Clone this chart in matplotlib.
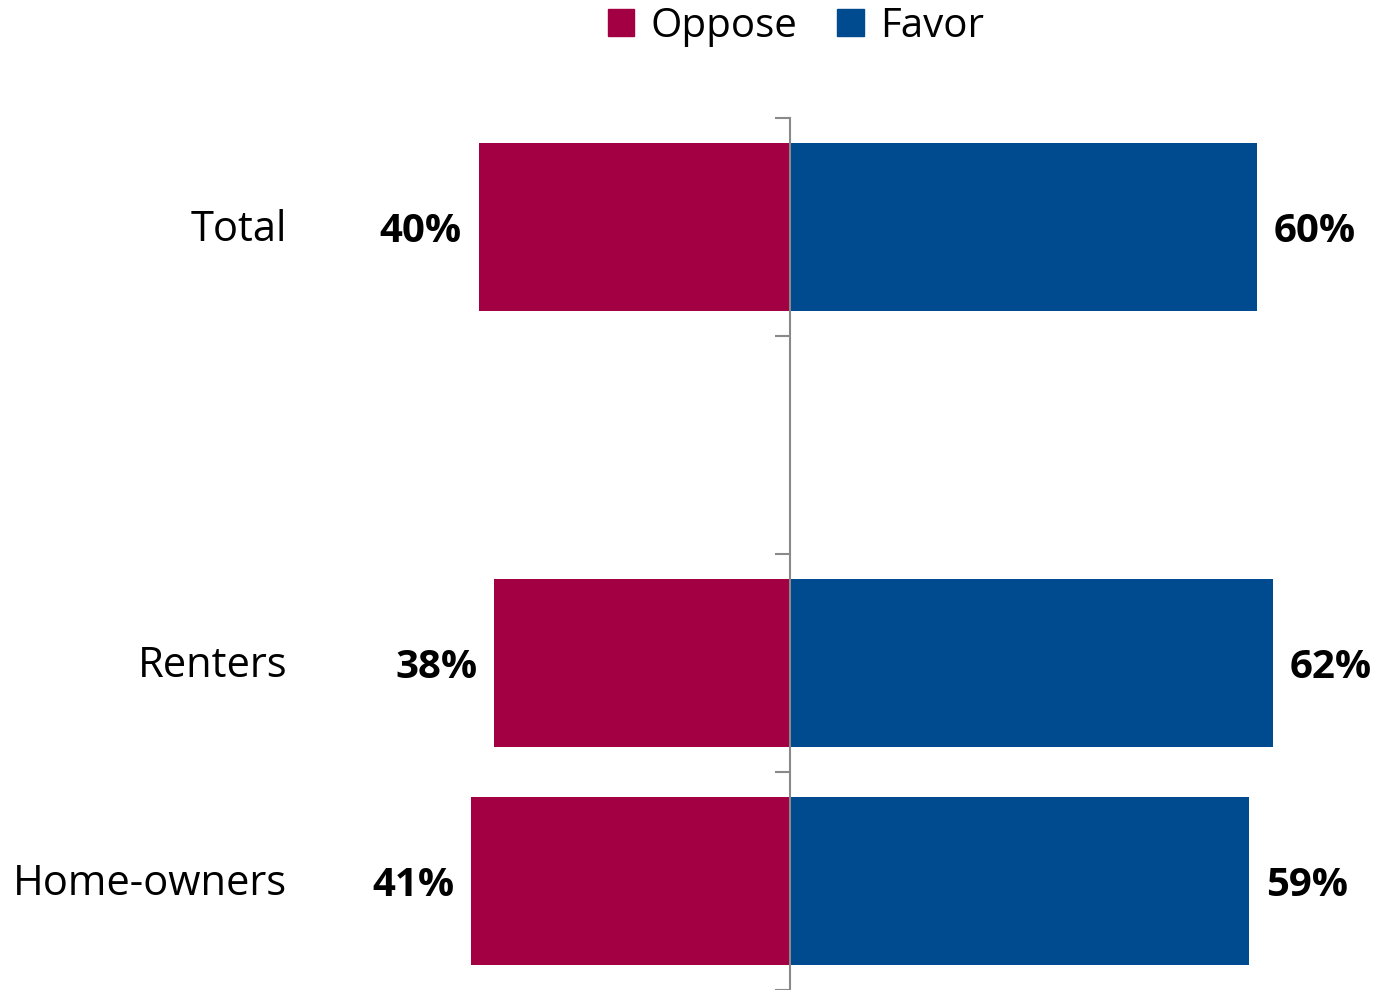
import matplotlib.pyplot as plt
import numpy as np
from matplotlib.patches import Patch

plt.rcParams['font.family'] = ['Open Sans', 'DejaVu Sans']

groups = ['Total', '', 'Renters', 'Home-owners']
oppose = [40, None, 38, 41]
favor = [60, None, 62, 59]

red = '#A20042'
blue = '#004A8F'
axis_gray = '#898989'

fig = plt.figure(figsize=(13.78, 9.9), dpi=100)
ax = fig.add_axes([322.9 / 1378, 0, 1051 / 1378, 1 - 118 / 990])

y = np.arange(len(groups))
bar_h = 0.77

for i in range(len(groups)):
    if oppose[i] is None:
        continue
    ax.barh(y[i], -oppose[i], height=bar_h, color=red, zorder=2)
    ax.barh(y[i], favor[i], height=bar_h, color=blue, zorder=2)
    ax.annotate(f'{oppose[i]}%', xy=(-oppose[i], y[i]), xytext=(-12, -3),
                textcoords='offset points', ha='right', va='center',
                fontsize=29, fontweight='bold', annotation_clip=False)
    ax.annotate(f'{favor[i]}%', xy=(favor[i], y[i]), xytext=(12, -3),
                textcoords='offset points', ha='left', va='center',
                fontsize=29, fontweight='bold', annotation_clip=False)

ax.set_xlim(-60, 75)
ax.set_ylim(len(groups) - 0.5, -0.5)

for s in ['top', 'right', 'bottom']:
    ax.spines[s].set_visible(False)
ax.spines['left'].set_position(('data', 0))
ax.spines['left'].set_color(axis_gray)
ax.spines['left'].set_linewidth(1.5)
ax.spines['left'].set_zorder(3)

ax.set_xticks([])
ax.set_yticks(y)
ax.set_yticklabels([])
ax.tick_params(axis='y', which='major', length=0)
ax.set_yticks(np.arange(len(groups) + 1) - 0.5, minor=True)
ax.tick_params(axis='y', which='minor', length=11, width=1.5, color=axis_gray, direction='out')

# category names sit in figure coordinates, right-aligned left of the plot
for i, name in enumerate(groups):
    yf = ax.transData.transform((0, y[i]))[1] - 3
    fig.text(287 / 1378, yf / 990, name, ha='right', va='center', fontsize=30)

handles = [Patch(color=red), Patch(color=blue)]
fig.legend(handles, ['Oppose', 'Favor'], loc='upper center', bbox_to_anchor=(0.5775, 1.03),
           ncol=2, frameon=False, fontsize=29, handlelength=0.65, handleheight=0.65,
           handletextpad=0.4, columnspacing=1.0)

fig.savefig('out.png', dpi=100)
